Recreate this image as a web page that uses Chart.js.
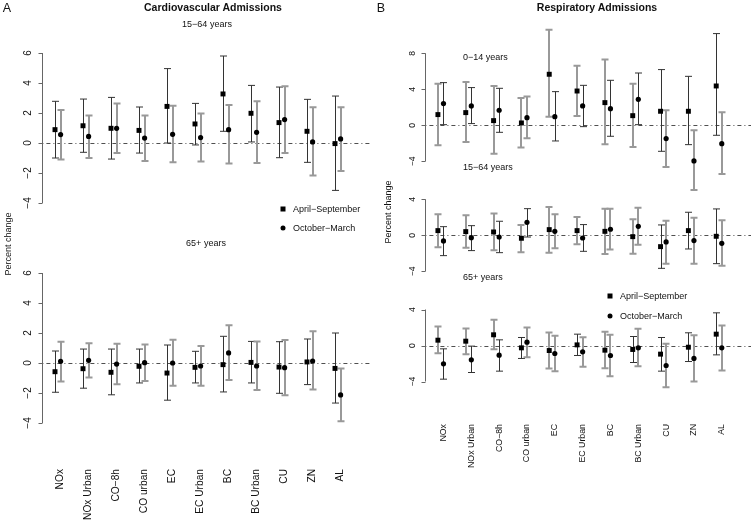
<!DOCTYPE html>
<html>
<head>
<meta charset="utf-8">
<script src="https://cdn.jsdelivr.net/npm/chart.js@4.4.0/dist/chart.umd.min.js"></script>
<style>
  body { margin: 0; background: #fff; }
  #wrap { position: relative; width: 755px; height: 525px; overflow: hidden; font-family: "Liberation Sans", Arial, sans-serif; color: #111; }
  #wrap canvas { position: absolute; left: 0; top: 0; }
  .c { position: absolute; white-space: nowrap; line-height: 1; transform: translate(-50%, -50%); }
  .l { position: absolute; white-space: nowrap; line-height: 1; transform: translate(0, -50%); }
  .v { position: absolute; width: 80px; height: 10px; line-height: 10px; text-align: center; white-space: nowrap; transform: rotate(-90deg); }
  .sq { position: absolute; width: 5px; height: 5px; background: #000; transform: translate(-50%, -50%); }
  .dot { position: absolute; width: 5px; height: 5px; background: #000; border-radius: 50%; transform: translate(-50%, -50%); }
</style>
</head>
<body>
<div id="wrap">
  <canvas id="cvMid" width="755" height="525"></canvas>
  <canvas id="cvOld" width="755" height="525"></canvas>
  <canvas id="rsKid" width="755" height="525"></canvas>
  <canvas id="rsMid" width="755" height="525"></canvas>
  <canvas id="rsOld" width="755" height="525"></canvas>

  <div class="c" style="left:7px;top:8px;font-size:12.5px">A</div>
  <div class="c" style="left:213px;top:7px;font-size:10.5px;font-weight:bold">Cardiovascular Admissions</div>
  <div class="c" style="left:207px;top:24px;font-size:9px">15−64 years</div>
  <div class="c" style="left:206px;top:243px;font-size:9px">65+ years</div>
  <div class="v" style="left:-32px;top:239px;font-size:9px">Percent change</div>
  <div class="sq" style="left:283px;top:209px"></div>
  <div class="l" style="left:293px;top:209px;font-size:9px">April−September</div>
  <div class="dot" style="left:283px;top:228px"></div>
  <div class="l" style="left:293px;top:228px;font-size:9px">October−March</div>

  <div class="c" style="left:381px;top:8px;font-size:12.5px">B</div>
  <div class="c" style="left:597px;top:7px;font-size:10.5px;font-weight:bold">Respiratory Admissions</div>
  <div class="l" style="left:463px;top:57px;font-size:9px">0−14 years</div>
  <div class="l" style="left:463px;top:167px;font-size:9px">15−64 years</div>
  <div class="l" style="left:463px;top:277px;font-size:9px">65+ years</div>
  <div class="v" style="left:348px;top:207px;font-size:9px">Percent change</div>
  <div class="sq" style="left:610px;top:296px"></div>
  <div class="l" style="left:620px;top:296px;font-size:9px">April−September</div>
  <div class="dot" style="left:610px;top:316px"></div>
  <div class="l" style="left:620px;top:316px;font-size:9px">October−March</div>
</div>
<script>
const categories = ['NOx', 'NOx Urban', 'CO−8h', 'CO urban', 'EC', 'EC Urban', 'BC', 'BC Urban', 'CU', 'ZN', 'AL'];

const cvTicks = [-4, -2, 0, 2, 4, 6];
const rsTopTicks = [-4, 0, 4, 8];
const rsTicks = [-4, 0, 4];

// Cardiovascular, 15-64 years
const cvMidAprEst = [0.89, 1.15, 0.98, 0.84, 2.44, 1.27, 3.27, 1.98, 1.36, 0.78, -0.04];
const cvMidAprLo = [-1.0, -0.62, -1.07, -0.67, 0.0, -0.13, 0.78, 0.07, -0.98, -1.29, -3.16];
const cvMidAprHi = [2.78, 2.93, 3.04, 2.4, 4.96, 2.64, 5.8, 3.84, 3.73, 2.91, 3.13];
const cvMidOctEst = [0.56, 0.44, 0.98, 0.33, 0.58, 0.36, 0.89, 0.71, 1.56, 0.07, 0.27];
const cvMidOctLo = [-1.1, -1.0, -0.67, -1.2, -1.29, -1.24, -1.36, -1.33, -0.67, -2.16, -1.87];
const cvMidOctHi = [2.2, 1.84, 2.64, 1.84, 2.49, 1.96, 2.53, 2.78, 3.78, 2.38, 2.38];

// Cardiovascular, 65+ years
const cvOldAprEst = [-0.58, -0.38, -0.62, -0.22, -0.67, -0.29, -0.11, 0.04, -0.27, 0.07, -0.36];
const cvOldAprLo = [-1.95, -1.68, -2.12, -1.33, -2.48, -1.33, -1.93, -1.33, -2.02, -1.44, -2.67];
const cvOldAprHi = [0.8, 0.93, 0.93, 0.93, 1.2, 0.78, 1.78, 1.44, 1.42, 1.6, 2.0];
const cvOldOctEst = [0.11, 0.18, -0.07, 0.02, 0.0, -0.2, 0.67, -0.2, -0.31, 0.13, -2.13];
const cvOldOctLo = [-1.24, -0.97, -1.42, -1.2, -1.51, -1.51, -1.13, -1.8, -2.15, -1.76, -3.89];
const cvOldOctHi = [1.42, 1.31, 1.29, 1.24, 1.55, 1.13, 2.51, 1.44, 1.53, 2.11, -0.36];

// Respiratory, 0-14 years
const rsKidAprEst = [1.19, 1.41, 0.52, 0.26, 5.67, 3.81, 2.52, 1.07, 1.56, 1.56, 4.37];
const rsKidAprLo = [-2.22, -1.85, -3.15, -2.48, 0.96, 1.04, -2.11, -2.41, -2.89, -2.15, -1.11];
const rsKidAprHi = [4.63, 4.81, 4.37, 3.04, 10.63, 6.63, 7.3, 4.63, 6.19, 5.44, 10.19];
const rsKidOctEst = [2.41, 2.15, 1.67, 0.85, 0.96, 2.15, 1.85, 2.89, -1.48, -3.96, -2.04];
const rsKidOctLo = [0.07, 0.19, -0.78, -1.44, -1.74, -0.15, -1.22, 0.07, -4.63, -7.19, -5.41];
const rsKidOctHi = [4.74, 4.19, 4.11, 3.19, 3.74, 4.44, 5.0, 5.81, 1.67, -0.56, 1.44];

// Respiratory, 15-64 years
const rsMidAprEst = [0.52, 0.41, 0.37, -0.33, 0.63, 0.52, 0.44, -0.15, -1.26, 0.52, -0.11];
const rsMidAprLo = [-1.33, -1.37, -1.67, -1.89, -1.93, -1.0, -2.07, -2.04, -3.67, -1.52, -3.15];
const rsMidAprHi = [2.33, 2.22, 2.41, 1.15, 3.15, 2.04, 2.96, 1.78, 1.15, 2.56, 2.93];
const rsMidOctEst = [-0.63, -0.26, -0.19, 1.44, 0.44, -0.3, 0.67, 1.0, -0.74, -0.59, -0.89];
const rsMidOctLo = [-2.26, -1.7, -1.93, -0.19, -1.44, -1.78, -1.59, -1.04, -3.15, -3.15, -3.37];
const rsMidOctHi = [0.96, 1.07, 1.56, 2.96, 2.33, 1.19, 2.96, 3.07, 1.63, 1.96, 1.67];

// Respiratory, 65+ years
const rsOldAprEst = [0.59, 0.48, 1.19, -0.26, -0.56, 0.07, -0.52, -0.44, -0.96, -0.19, 1.26];
const rsOldAprLo = [-0.85, -0.96, -0.41, -1.44, -2.56, -1.11, -2.52, -1.89, -2.85, -1.78, -1.04];
const rsOldAprHi = [2.11, 1.89, 2.85, 0.89, 1.44, 1.26, 1.52, 1.0, 0.89, 1.41, 3.63];
const rsOldOctEst = [-2.04, -1.59, -1.07, 0.37, -0.89, -0.7, -1.11, -0.26, -2.22, -1.44, -0.26];
const rsOldOctLo = [-3.74, -3.0, -2.85, -1.3, -2.85, -2.37, -3.41, -2.3, -4.63, -4.0, -2.78];
const rsOldOctHi = [-0.37, -0.07, 0.63, 2.0, 1.07, 0.93, 1.19, 1.85, 0.19, 1.15, 2.22];

// bar shading per category: d = dark thin, g = grey thick
const shadeCvApr = 'ddddddddddd', shadeCvOct = 'ggggggggggg';
const shadeKidApr = 'ggggggggddd', shadeKidOct = 'dddgddddggg';
const shadeMidApr = 'ggggggggddd', shadeMidOct = 'ddddgdggggg';
const shadeOldApr = 'gggdgdgdddd', shadeOldOct = 'dddgggggggg';

const W = 755, H = 525;

// draws R-like axis, zero line, error bars and category labels
const rPlot = {
  id: 'rPlot',
  beforeDatasetsDraw(chart, args, opts) {
    const { ctx, chartArea: a, scales: { x, y } } = chart;
    ctx.save();

    const y0 = Math.round(y.getPixelForValue(0)) + 0.5;
    ctx.strokeStyle = '#222';
    ctx.lineWidth = 0.8;
    ctx.setLineDash([1, 3, 4, 3]);
    ctx.beginPath();
    ctx.moveTo(a.left, y0);
    ctx.lineTo(a.right, y0);
    ctx.stroke();
    ctx.setLineDash([]);

    // y axis
    const ax = Math.round(a.left) + 0.5;
    ctx.strokeStyle = '#666';
    ctx.lineWidth = 1;
    ctx.beginPath();
    ctx.moveTo(ax, y.getPixelForValue(opts.ticks[0]));
    ctx.lineTo(ax, y.getPixelForValue(opts.ticks[opts.ticks.length - 1]));
    opts.ticks.forEach(t => {
      const ty = Math.round(y.getPixelForValue(t)) + 0.5;
      ctx.moveTo(ax, ty);
      ctx.lineTo(ax - 4, ty);
    });
    ctx.stroke();

    ctx.fillStyle = '#111';
    ctx.font = opts.tickFont + 'px "Liberation Sans", Arial, sans-serif';
    ctx.textAlign = 'center';
    ctx.textBaseline = 'middle';
    opts.ticks.forEach(t => {
      ctx.save();
      ctx.translate(ax - opts.tickGap, y.getPixelForValue(t));
      ctx.rotate(-Math.PI / 2);
      ctx.fillText(String(t).replace('-', '−'), 0, 0);
      ctx.restore();
    });

    // error bars
    chart.data.datasets.forEach(ds => {
      ds.data.forEach((p, i) => {
        const dark = ds.shade[i] === 'd';
        const px = Math.round(x.getPixelForValue(p.x)) + (dark ? 0.5 : 0);
        const top = y.getPixelForValue(ds.hi[i]);
        const bot = y.getPixelForValue(ds.lo[i]);
        ctx.strokeStyle = dark ? '#333' : '#999';
        ctx.lineWidth = dark ? 1 : 2;
        ctx.beginPath();
        ctx.moveTo(px, top);
        ctx.lineTo(px, bot);
        ctx.moveTo(px - 3.5, top);
        ctx.lineTo(px + 3.5, top);
        ctx.moveTo(px - 3.5, bot);
        ctx.lineTo(px + 3.5, bot);
        ctx.stroke();
      });
    });

    if (opts.labelTop) {
      ctx.fillStyle = '#111';
      ctx.font = opts.labelFont + 'px "Liberation Sans", Arial, sans-serif';
      ctx.textAlign = 'right';
      ctx.textBaseline = 'middle';
      categories.forEach((c, i) => {
        ctx.save();
        ctx.translate(x.getPixelForValue(i + 0.1), opts.labelTop);
        ctx.rotate(-Math.PI / 2);
        ctx.fillText(c, 0, 0);
        ctx.restore();
      });
    }
    ctx.restore();
  }
};

function subplot(id, box, ticks, apr, oct, extra) {
  const mk = (s, off) => s.est.map((v, i) => ({ x: i + off, y: v }));
  return new Chart(document.getElementById(id), {
    type: 'scatter',
    data: {
      datasets: [
        { label: 'April−September', data: mk(apr, -0.1), lo: apr.lo, hi: apr.hi, shade: apr.shade,
          pointStyle: 'rect', pointRadius: 3.5, backgroundColor: '#000', borderWidth: 0, clip: false },
        { label: 'October−March', data: mk(oct, 0.1), lo: oct.lo, hi: oct.hi, shade: oct.shade,
          pointStyle: 'circle', pointRadius: 2.6, backgroundColor: '#000', borderWidth: 0, clip: false }
      ]
    },
    options: {
      responsive: false,
      animation: false,
      events: [],
      layout: { padding: { left: box.left, top: box.top, right: W - box.right, bottom: H - box.bottom } },
      scales: {
        x: { type: 'linear', display: false, min: -0.55, max: 11.15 },
        y: { type: 'linear', display: false, min: ticks[0], max: ticks[ticks.length - 1] }
      },
      plugins: {
        legend: { display: false },
        tooltip: { enabled: false },
        rPlot: Object.assign({ ticks: ticks }, extra)
      }
    },
    plugins: [rPlot]
  });
}

const aStyle = { tickFont: 10, tickGap: 14, labelFont: 10.2 };
const bStyle = { tickFont: 8.6, tickGap: 13, labelFont: 8.8 };

subplot('cvMid', { left: 42.4, right: 370, top: 53, bottom: 203 }, cvTicks,
  { est: cvMidAprEst, lo: cvMidAprLo, hi: cvMidAprHi, shade: shadeCvApr },
  { est: cvMidOctEst, lo: cvMidOctLo, hi: cvMidOctHi, shade: shadeCvOct }, aStyle);

subplot('cvOld', { left: 42.4, right: 370, top: 273, bottom: 423 }, cvTicks,
  { est: cvOldAprEst, lo: cvOldAprLo, hi: cvOldAprHi, shade: shadeCvApr },
  { est: cvOldOctEst, lo: cvOldOctLo, hi: cvOldOctHi, shade: shadeCvOct },
  Object.assign({ labelTop: 469 }, aStyle));

subplot('rsKid', { left: 425.4, right: 753, top: 53.3, bottom: 161.3 }, rsTopTicks,
  { est: rsKidAprEst, lo: rsKidAprLo, hi: rsKidAprHi, shade: shadeKidApr },
  { est: rsKidOctEst, lo: rsKidOctLo, hi: rsKidOctHi, shade: shadeKidOct }, bStyle);

subplot('rsMid', { left: 425.4, right: 753, top: 199.3, bottom: 271.3 }, rsTicks,
  { est: rsMidAprEst, lo: rsMidAprLo, hi: rsMidAprHi, shade: shadeMidApr },
  { est: rsMidOctEst, lo: rsMidOctLo, hi: rsMidOctHi, shade: shadeMidOct }, bStyle);

subplot('rsOld', { left: 425.4, right: 753, top: 309.5, bottom: 381.5 }, rsTicks,
  { est: rsOldAprEst, lo: rsOldAprLo, hi: rsOldAprHi, shade: shadeOldApr },
  { est: rsOldOctEst, lo: rsOldOctLo, hi: rsOldOctHi, shade: shadeOldOct },
  Object.assign({ labelTop: 424 }, bStyle));
</script>
</body>
</html>
